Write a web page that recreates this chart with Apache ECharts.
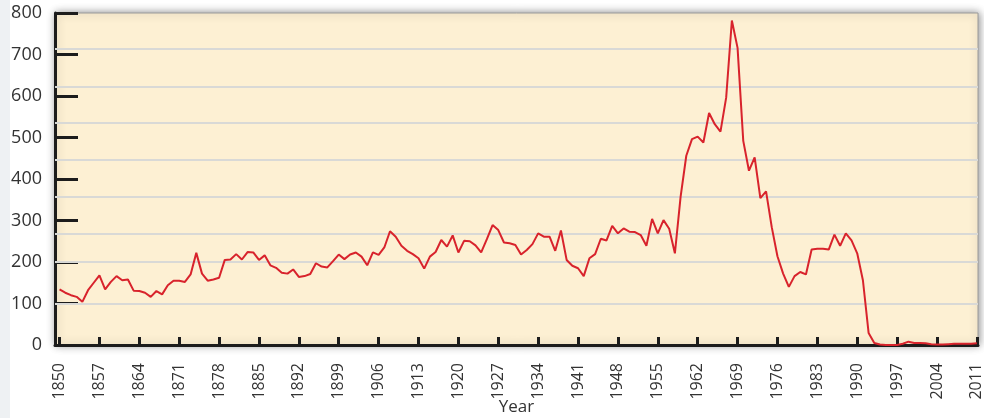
<!DOCTYPE html>
<html>
<head>
<meta charset="utf-8">
<script src="https://cdn.jsdelivr.net/npm/echarts@6/dist/echarts.min.js"></script>
<style>
html,body{margin:0;padding:0;background:#ffffff;}
#chart{width:984px;height:418px;}
</style>
</head>
<body>
<div id="chart"></div>
<script>
const firstYear = 1850;
const values = [
  134,126,120,116,104,132,150,168,134,152,
  166,156,158,131,130,126,116,130,122,144,
  155,155,152,170,222,172,155,158,162,205,
  206,219,206,224,223,205,216,192,186,174,
  172,182,164,166,171,197,189,187,202,218,
  207,218,223,213,192,223,217,235,274,261,
  239,227,219,209,184,213,224,253,237,264,
  223,251,250,240,223,255,289,277,247,245,
  241,218,229,243,269,261,261,227,276,205,
  191,185,166,209,219,256,252,287,269,281,
  273,272,265,239,304,269,301,280,221,357,
  456,496,502,488,559,532,514,596,782,716,
  492,420,452,354,370,284,214,172,140,166,
  176,170,230,232,232,230,266,239,269,252,
  221,156,29,5,1,0,0,0,3,8,
  5,5,4,2,1,1,2,3,3,3,
  3,4
];
const xTickYears = [1850,1857,1864,1871,1878,1885,1892,1899,1906,1913,1920,1927,1934,1941,1948,1955,1962,1969,1976,1983,1990,1997,2004,2011];
const yTicks = [0,100,200,300,400,500,600,700,800];
const gridLineValues = [100,200,267,357,446,535,622,713];
const xAxisName = 'Year';

const seriesData = values.map((v, i) => [firstYear + i, v]);

const chart = echarts.init(document.getElementById('chart'), null, {renderer: 'canvas'});
chart.setOption({
  backgroundColor: '#ffffff',
  animation: false,
  graphic: [{
    type: 'rect', left: 0, top: 0, z: -10,
    shape: {width: 10, height: 418},
    style: {fill: '#eef1f3'}
  }],
  grid: {
    left: 55, right: 6, top: 13, bottom: 73,
    containLabel: false,
    outerBoundsMode: 'none',
    show: true,
    backgroundColor: '#fdf0d3',
    borderColor: '#9a9a9a',
    borderWidth: 1,
    shadowBlur: 8,
    shadowColor: 'rgba(0,0,0,0.45)',
    shadowOffsetX: 1,
    shadowOffsetY: 0
  },
  xAxis: {
    type: 'value',
    min: 1849.2,
    max: 2011.2,
    name: xAxisName,
    nameLocation: 'middle',
    nameGap: 54,
    nameMoveOverlap: false,
    nameTextStyle: {fontFamily: 'Open Sans', fontSize: 17, color: '#333'},
    axisLine: {show: true, onZero: false, lineStyle: {color: '#1c1c1c', width: 3}},
    axisTick: {show: true, inside: true, length: 8, lineStyle: {color: '#1c1c1c', width: 3}, customValues: xTickYears},
    axisLabel: {
      show: true, rotate: 90, margin: 18,
      fontFamily: 'Open Sans', fontSize: 16, color: '#333',
      customValues: xTickYears,
      formatter: v => String(v)
    },
    splitLine: {show: false}
  },
  yAxis: {
    type: 'value',
    min: 0, max: 800, interval: 100,
    axisLine: {show: true, lineStyle: {color: '#1c1c1c', width: 3}},
    axisTick: {show: true, inside: true, length: 23, lineStyle: {color: '#1c1c1c', width: 3}},
    axisLabel: {show: true, margin: 13, fontFamily: 'Open Sans', fontSize: 18, color: '#333',
      formatter: v => yTicks.includes(v) ? String(v) : ''},
    splitLine: {show: false}
  },
  series: [
    {
      type: 'line',
      data: [],
      z: 1,
      silent: true,
      markLine: {
        silent: true,
        symbol: ['none','none'],
        label: {show: false},
        lineStyle: {color: '#d9d9d6', width: 2, type: 'solid'},
        data: gridLineValues.map(v => ({yAxis: v}))
      }
    },
    {
      type: 'line',
      data: seriesData,
      z: 5,
      showSymbol: false,
      symbol: 'none',
      lineStyle: {color: '#d8232c', width: 2},
      itemStyle: {color: '#d8232c'}
    }
  ]
});
</script>
</body>
</html>
